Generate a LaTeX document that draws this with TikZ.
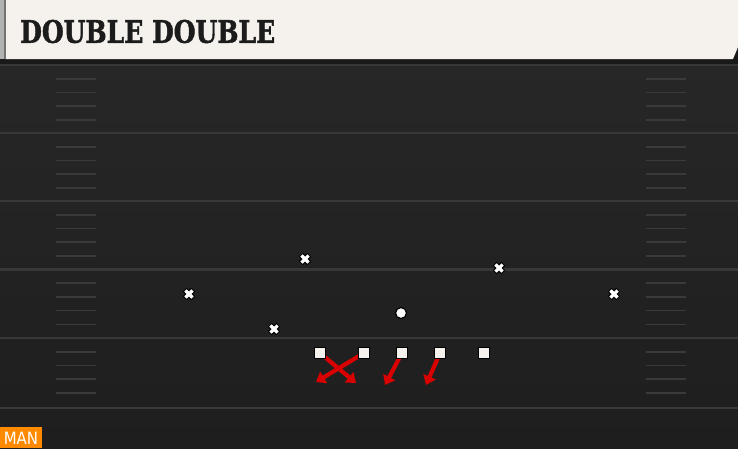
\documentclass[tikz,border=0pt]{standalone}
\usepackage{fontspec}
\usetikzlibrary{arrows.meta}
\newfontfamily\titlefont{DejaVu Serif}[BoldFont={DejaVu Serif Bold}, BoldFeatures={FakeBold=1.6}]
\newfontfamily\labelfont{DejaVu Sans}
\definecolor{fieldtop}{HTML}{272727}
\definecolor{fieldbot}{HTML}{1E1E1E}
\definecolor{yardline}{HTML}{383838}
\definecolor{hashline}{HTML}{3A3A3A}
\definecolor{cream}{HTML}{F5F2EE}
\definecolor{routered}{HTML}{D80000}
\definecolor{manorange}{HTML}{FF8A00}
\tikzset{
  yard/.style={draw=yardline, line width=2.2pt},
  hashm/.style={draw=hashline, line width=1.6pt},
  defx/.style={inner sep=0pt, minimum size=18pt, path picture={
      \draw[black, line width=5.6pt] ([shift={(-4.2pt,-4.2pt)}]path picture bounding box.center) -- ([shift={(4.2pt,4.2pt)}]path picture bounding box.center);
      \draw[black, line width=5.6pt] ([shift={(-4.2pt,4.2pt)}]path picture bounding box.center) -- ([shift={(4.2pt,-4.2pt)}]path picture bounding box.center);
      \draw[white, line width=3.2pt] ([shift={(-3.6pt,-3.6pt)}]path picture bounding box.center) -- ([shift={(3.6pt,3.6pt)}]path picture bounding box.center);
      \draw[white, line width=3.2pt] ([shift={(-3.6pt,3.6pt)}]path picture bounding box.center) -- ([shift={(3.6pt,-3.6pt)}]path picture bounding box.center);
  }},
  olin/.style={draw=black, fill=cream, line width=1pt, minimum size=10.5pt, inner sep=0pt},
  qb/.style={circle, draw=black, fill=white, line width=1.2pt, minimum size=11pt, inner sep=0pt},
  route/.style={draw=routered, line width=4.2pt, -{Triangle[width=13pt,length=9pt]}, shorten <=1pt},
}
\begin{document}
\begin{tikzpicture}[x=1pt,y=-1pt]
\useasboundingbox (0,0) rectangle (738,448);
% field
\shade[top color=fieldtop, bottom color=fieldbot] (0,59) rectangle (738,448);
\fill[fieldbot!85!black] (0,47) rectangle (738,64);
% yard lines
\foreach \y in {65,133,201,269.5,338,408} {
  \draw[yard] (0,\y) -- (738,\y);
}
% hash marks
\foreach \b in {65,133,201,269.5,338} {
  \foreach \k in {1,2,3,4} {
    \draw[hashm] (56,\b+\k*13.7) -- (96,\b+\k*13.7);
    \draw[hashm] (646,\b+\k*13.7) -- (686,\b+\k*13.7);
  }
}
% header
\fill[cream] (5,0) -- (738,0) -- (738,47) -- (733,59) -- (5,59) -- cycle;
\fill[black!30] (0,0) rectangle (5,59);
\fill[black!55] (4,0) rectangle (5.5,59);
\node[anchor=west, inner sep=0pt] (title) at (20,31.5)
  {\resizebox{255pt}{23pt}{\titlefont\bfseries\color[HTML]{1C1C1C}DOUBLE DOUBLE}};
% defenders
\node[defx] (d1) at (305,259) {};
\node[defx] (d2) at (189,294) {};
\node[defx] (d3) at (274,329) {};
\node[defx] (d4) at (499,268) {};
\node[defx] (d5) at (614,294) {};
% offense
\coordinate (e1) at (356,383);
\coordinate (e2) at (316,382);
\coordinate (e3) at (385,385);
\coordinate (e4) at (426,385);
\coordinate (s1) at (320,353);
\coordinate (s2) at (364,353);
\coordinate (s3) at (402,353);
\coordinate (s4) at (440,353);
\draw[route] (s1) -- (e1);
\draw[route] (s2) -- (e2);
\draw[route] (s3) -- (e3);
\draw[route] (s4) -- (e4);
\node[olin] (o1) at (s1) {};
\node[olin] (o2) at (s2) {};
\node[olin] (o3) at (s3) {};
\node[olin] (o4) at (s4) {};
\node[olin] (o5) at (484,353) {};
\node[qb] (q) at (401,313) {};
% MAN label
\fill[manorange] (0,427) rectangle (42,448);
\node[anchor=center, inner sep=0pt, text=white] (man) at (21,438)
  {\scalebox{0.88}[1]{\labelfont\fontsize{17}{17}\selectfont MAN}};
\end{tikzpicture}
\end{document}
